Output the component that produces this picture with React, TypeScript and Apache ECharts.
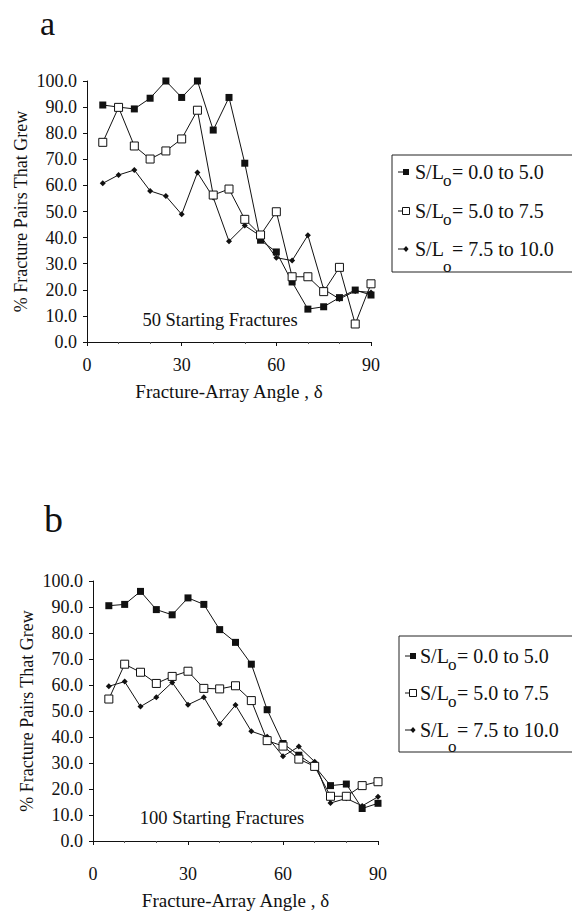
import React, { useEffect, useRef } from "react";
import * as echarts from "echarts";

// ---- data ----
const angles = [5, 10, 15, 20, 25, 30, 35, 40, 45, 50, 55, 60, 65, 70, 75, 80, 85, 90];

// panel a: 50 starting fractures
const aLow = [90.8, 90, 89.3, 93.4, 100, 93.7, 100, 81.2, 93.7, 68.5, 39, 34.5, 23, 12.6, 13.5, 17, 19.9, 18];
const aMid = [76.5, 89.9, 75.1, 70.1, 73.2, 77.8, 88.8, 56.3, 58.6, 47, 41, 49.9, 25, 25, 19.3, 28.6, 6.9, 22.3];
const aHigh = [60.8, 64, 65.9, 57.9, 55.9, 48.9, 64.9, 55.4, 38.6, 44.6, 40.6, 32.3, 31.2, 40.9, 20.2, 16.5, 19.5, 19];

// panel b: 100 starting fractures
const bLow = [90.5, 91, 96, 89, 87, 93.5, 91, 81.3, 76.4, 68, 50.5, 37.5, 33, 28.8, 21.3, 21.9, 12.5, 14.5];
const bMid = [54.6, 68, 64.9, 60.6, 63.3, 65.3, 58.7, 58.5, 59.7, 54, 38.6, 36.5, 31.5, 28.7, 17.2, 17.2, 21.3, 22.8];
const bHigh = [59.5, 61.3, 51.7, 55.3, 61, 52.4, 55.3, 45, 52.3, 42.2, 40.1, 32.6, 36.3, 30.5, 14.6, 16.4, 13.5, 17];

const legendRanges = ["= 0.0 to 5.0", "= 5.0 to 7.5", "= 7.5 to 10.0"];
const panelLabels = ["a", "b"];
const panelNotes = ["50 Starting Fractures", "100 Starting Fractures"];
const xTitle = "Fracture-Array Angle , \u03b4";
const yTitle = "% Fracture Pairs That Grew";

const FONT = "'Liberation Serif', 'Times New Roman', serif";
const INK = "#111";

function pairs(vals: number[]) {
  return angles.map((a, i) => [a, vals[i]]);
}

function legendEls(
  left: number,
  top: number,
  right: number,
  bottom: number,
  rowYs: number[],
  markerX: number,
  textX: number,
  subDy: number[]
) {
  const els: any[] = [];
  els.push({
    type: "rect",
    shape: { x: left, y: top, width: right - left, height: bottom - top },
    style: { fill: "none", stroke: "#222", lineWidth: 1 },
  });
  rowYs.forEach((y, i) => {
    els.push({
      type: "line",
      shape: { x1: markerX - 8, y1: y, x2: markerX, y2: y },
      style: { stroke: INK, lineWidth: 1 },
    });
    if (i === 0)
      els.push({ type: "rect", shape: { x: markerX - 3, y: y - 3, width: 6, height: 6 }, style: { fill: INK } });
    if (i === 1)
      els.push({
        type: "rect",
        shape: { x: markerX - 3.5, y: y - 3.5, width: 7, height: 7 },
        style: { fill: "#fff", stroke: INK, lineWidth: 1 },
      });
    if (i === 2)
      els.push({
        type: "polygon",
        shape: { points: [[markerX, y - 3], [markerX + 2.6, y], [markerX, y + 3], [markerX - 2.6, y]] },
        style: { fill: INK },
      });
    els.push({
      type: "text",
      x: textX,
      y,
      style: { text: "S/L", fontSize: 20, fontFamily: FONT, fill: INK, verticalAlign: "middle", align: "left" },
    });
    els.push({
      type: "text",
      x: textX + 28,
      y: y + subDy[i],
      style: { text: "o", fontSize: 17, fontFamily: FONT, fill: INK, verticalAlign: "middle", align: "left" },
    });
    els.push({
      type: "text",
      x: textX + 37,
      y,
      style: { text: legendRanges[i], fontSize: 20, fontFamily: FONT, fill: INK, verticalAlign: "middle", align: "left" },
    });
  });
  return els;
}

function makeAxisX(gi: number, labelMargin: number, nameGap: number) {
  return {
    type: "value",
    gridIndex: gi,
    min: 0,
    max: 90,
    interval: 30,
    name: xTitle,
    nameLocation: "middle",
    nameGap,
    nameTextStyle: { fontSize: 19, fontFamily: FONT, color: INK },
    axisLine: { show: true, lineStyle: { color: INK, width: 1 } },
    axisTick: { show: true, length: 4, lineStyle: { color: INK } },
    minorTick: { show: true, splitNumber: 3, length: 2, lineStyle: { color: "#555" } },
    splitLine: { show: false },
    axisLabel: { margin: labelMargin, fontSize: 18, fontFamily: FONT, color: INK },
  };
}

function makeAxisY(gi: number) {
  return {
    type: "value",
    gridIndex: gi,
    min: 0,
    max: 100,
    interval: 10,
    name: yTitle,
    nameLocation: "middle",
    nameRotate: 90,
    nameGap: 57,
    nameTextStyle: { fontSize: 18, fontFamily: FONT, color: INK },
    axisLine: { show: true, lineStyle: { color: INK, width: 1 } },
    axisTick: { show: true, length: 4, lineStyle: { color: INK } },
    splitLine: { show: false },
    axisLabel: {
      margin: 10,
      fontSize: 18,
      fontFamily: FONT,
      color: INK,
      formatter: (v: number) => v.toFixed(1),
    },
  };
}

function seriesSet(gi: number, low: number[], mid: number[], high: number[]) {
  const line = { color: INK, width: 1 };
  return [
    {
      type: "line",
      xAxisIndex: gi,
      yAxisIndex: gi,
      data: pairs(high),
      symbol: "diamond",
      symbolSize: 6,
      itemStyle: { color: INK },
      lineStyle: line,
      z: 3,
    },
    {
      type: "line",
      xAxisIndex: gi,
      yAxisIndex: gi,
      data: pairs(low),
      symbol: "rect",
      symbolSize: 7,
      itemStyle: { color: INK },
      lineStyle: line,
      z: 4,
    },
    {
      type: "line",
      xAxisIndex: gi,
      yAxisIndex: gi,
      data: pairs(mid),
      symbol: "rect",
      symbolSize: 8,
      showAllSymbol: true,
      itemStyle: { color: "#fff", borderColor: INK, borderWidth: 1 },
      lineStyle: line,
      z: 5,
    },
  ];
}

export default function App() {
  const ref = useRef<HTMLDivElement>(null);
  useEffect(() => {
    document.body.style.margin = "0";
    if (!ref.current) return;
    const chart = echarts.init(ref.current, undefined, { renderer: "svg" });
    const graphics: any[] = [
      {
        type: "text",
        x: 40,
        y: 6,
        style: { text: panelLabels[0], fontSize: 34, fontFamily: FONT, fill: INK, align: "left", verticalAlign: "top" },
      },
      {
        type: "text",
        x: 44,
        y: 500,
        style: { text: panelLabels[1], fontSize: 38, fontFamily: FONT, fill: INK, align: "left", verticalAlign: "top" },
      },
      {
        type: "text",
        x: 220,
        y: 320,
        style: { text: panelNotes[0], fontSize: 18.5, fontFamily: FONT, fill: INK, align: "center", verticalAlign: "middle" },
      },
      {
        type: "text",
        x: 222,
        y: 818,
        style: { text: panelNotes[1], fontSize: 18.5, fontFamily: FONT, fill: INK, align: "center", verticalAlign: "middle" },
      },
      ...legendEls(392, 155, 576, 272, [172, 211, 249], 406, 415, [8, 8, 17]),
      ...legendEls(399, 636, 576, 752, [656, 693, 730], 413, 420, [8, 8, 16]),
    ];
    chart.setOption({
      animation: false,
      backgroundColor: "#fff",
      textStyle: { fontFamily: FONT },
      grid: [
        { left: 87, top: 81, width: 284, height: 261 },
        { left: 93, top: 581, width: 285, height: 261 },
      ],
      xAxis: [makeAxisX(0, 14, 40), makeAxisX(1, 24, 50)],
      yAxis: [makeAxisY(0), makeAxisY(1)],
      series: [...seriesSet(0, aLow, aMid, aHigh), ...seriesSet(1, bLow, bMid, bHigh)],
      graphic: graphics,
    });
    return () => chart.dispose();
  }, []);
  return <div ref={ref} style={{ width: 572, height: 911 }} />;
}
